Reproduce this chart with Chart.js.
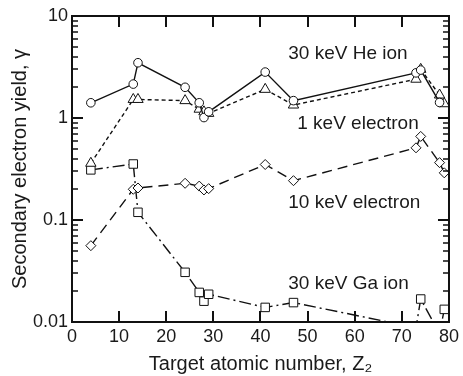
<!DOCTYPE html>
<html>
<head>
<meta charset="utf-8">
<script src="https://cdn.jsdelivr.net/npm/chart.js@4.4.1/dist/chart.umd.min.js"></script>
<style>
  html, body { margin: 0; padding: 0; background: #fff; }
  #wrap { width: 463px; height: 376px; }
</style>
</head>
<body>
<div id="wrap"><canvas id="chart" width="463" height="376"></canvas></div>
<script>
// Target atomic number Z2
const atomicNumbers = [4, 13, 14, 24, 27, 28, 29, 41, 47, 73, 74, 78, 79];

// Secondary electron yield per beam (null = not measured)
const heIon30keV      = [1.41, 2.15, 3.48, 2.0, 1.41, 1.01, 1.15, 2.82, 1.48, 2.77, 2.95, 1.42, null];
const electron1keV    = [0.36, 1.52, 1.52, 1.48, 1.22, 1.15, 1.11, 1.91, 1.34, 2.4, 3.0, 1.68, 1.38];
const electron10keV   = [0.056, 0.2, 0.206, 0.229, 0.215, 0.197, 0.203, 0.35, 0.243, 0.51, 0.66, 0.365, 0.29];
const gaIon30keV      = [0.31, 0.354, 0.119, 0.0307, 0.0195, 0.016, 0.0187, 0.0139, 0.0155, 0.0088, 0.0168, 0.0077, 0.0133];

// Axis ticks
const xTicks = [0, 10, 20, 30, 40, 50, 60, 70, 80];
const yTicks = [0.01, 0.1, 1, 10];

// Series labels written inside the plot (data coords)
const seriesLabels = [
  { text: "30 keV He ion",   x: 45.9, y: 4.24 },
  { text: "1 keV electron",  x: 47.8, y: 0.873 },
  { text: "10 keV electron", x: 45.9, y: 0.148 },
  { text: "30 keV Ga ion",   x: 45.9, y: 0.0236 }
];

const FONT = "'Liberation Sans', Arial, sans-serif";
const INK = "#111";

function toPoints(ys){
  return atomicNumbers.map((z, i) => ({ x: z, y: ys[i] }));
}

function series(label, ys, style, radius, dash){
  return {
    label,
    data: toPoints(ys),
    borderColor: INK,
    borderWidth: 1.4,
    borderDash: dash,
    backgroundColor: "#fff",
    pointStyle: style,
    pointRadius: radius,
    pointBorderWidth: 1,
    pointBorderColor: INK,
    pointBackgroundColor: "#fff",
    tension: 0,
    fill: false,
    clip: { left: 10, right: 10, top: 10, bottom: 0 }
  };
}

// frame + inward ticks + in-plot labels
const framePlugin = {
  id: "frame",
  afterDatasetsDraw(chart){
    const { ctx, chartArea: a, scales } = chart;
    const xs = scales.x, ys = scales.y;
    ctx.save();
    ctx.strokeStyle = INK;
    ctx.lineWidth = 2;
    ctx.strokeRect(a.left, a.top, a.right - a.left, a.bottom - a.top);

    // x ticks, bottom and top
    xTicks.slice(1, -1).forEach(v => {
      const px = Math.round(xs.getPixelForValue(v));
      ctx.beginPath();
      ctx.moveTo(px, a.bottom); ctx.lineTo(px, a.bottom - 11);
      ctx.moveTo(px, a.top);    ctx.lineTo(px, a.top + 11);
      ctx.stroke();
    });

    // y major + minor ticks, left and right
    for (let d = 0.01; d < 10; d *= 10) {
      for (let m = 1; m <= 9; m++) {
        const v = d * m;
        const py = Math.round(ys.getPixelForValue(v));
        const len = m === 1 ? 11 : 6;
        ctx.lineWidth = m === 1 ? 2 : 1.6;
        ctx.beginPath();
        ctx.moveTo(a.left, py);  ctx.lineTo(a.left + len, py);
        ctx.moveTo(a.right, py); ctx.lineTo(a.right - len, py);
        ctx.stroke();
      }
    }

    ctx.fillStyle = "#1a1a1a";
    ctx.font = "19px " + FONT;
    ctx.textBaseline = "middle";
    ctx.textAlign = "left";
    seriesLabels.forEach(l => {
      ctx.fillText(l.text, xs.getPixelForValue(l.x), ys.getPixelForValue(l.y));
    });
    ctx.restore();
  }
};

const chart = new Chart(document.getElementById("chart"), {
  type: "line",
  data: {
    datasets: [
      series("30 keV He ion",   heIon30keV,    "circle",   4.3, []),
      series("1 keV electron",  electron1keV,  "triangle", 6,   [4, 3]),
      series("10 keV electron", electron10keV, "rectRot",  5,   [10, 6]),
      series("30 keV Ga ion",   gaIon30keV,    "rect",     6,   [12, 4, 2, 4])
    ]
  },
  options: {
    responsive: false,
    animation: false,
    layout: { padding: { top: 16, right: 11, left: 8, bottom: 0 } },
    plugins: { legend: { display: false }, tooltip: { enabled: false } },
    scales: {
      x: {
        type: "linear",
        min: 0, max: 80,
        afterBuildTicks: s => { s.ticks = xTicks.map(v => ({ value: v })); },
        afterFit: s => { s.height = 54; },
        grid: { display: false, drawTicks: false },
        border: { display: false },
        ticks: { color: "#1a1a1a", font: { family: FONT, size: 18 }, padding: 4, maxRotation: 0 },
        title: { display: true, text: "Target atomic number, Z₂", color: "#1a1a1a",
                 font: { family: FONT, size: 20 }, padding: { top: 0, bottom: 0 } }
      },
      y: {
        type: "logarithmic",
        min: 0.01, max: 10,
        afterBuildTicks: s => { s.ticks = yTicks.map(v => ({ value: v })); },
        afterFit: s => { s.width = 64; },
        grid: { display: false, drawTicks: false },
        border: { display: false },
        ticks: { color: "#1a1a1a", font: { family: FONT, size: 18 }, padding: 4,
                 callback: v => String(v) },
        title: { display: true, text: "Secondary electron yield, γ", color: "#1a1a1a",
                 font: { family: FONT, size: 20 }, padding: { top: 0, bottom: 0 } }
      }
    }
  },
  plugins: [framePlugin]
});
</script>
</body>
</html>
